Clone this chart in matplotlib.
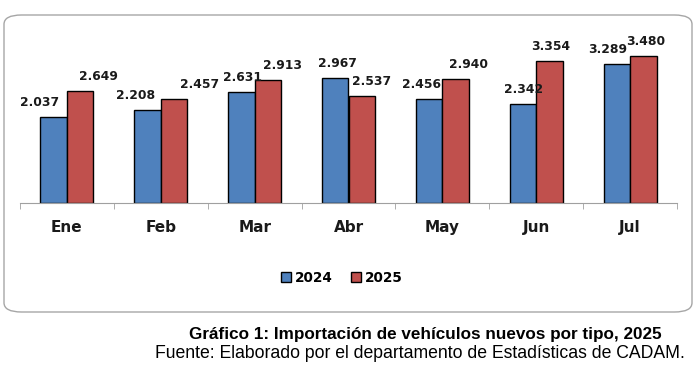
import numpy as np
import matplotlib
matplotlib.use("Agg")
import matplotlib.pyplot as plt
from matplotlib.patches import FancyBboxPatch

months = ["Ene", "Feb", "Mar", "Abr", "May", "Jun", "Jul"]
v2024 = [2.037, 2.208, 2.631, 2.967, 2.456, 2.342, 3.289]
v2025 = [2.649, 2.457, 2.913, 2.537, 2.940, 3.354, 3.480]
lbl2024 = ["2.037", "2.208", "2.631", "2.967", "2.456", "2.342", "3.289"]
lbl2025 = ["2.649", "2.457", "2.913", "2.537", "2.940", "3.354", "3.480"]

# label nudges (pixels), the source has hand-placed data labels
dx2024 = [-14, -12, 1, 2, -8, 1, -9]
dx2025 = [18, 26, 15, 10, 13, 1, 2]

BLUE = "#4F81BD"
RED = "#C0504D"
W, H = 699, 371

fig = plt.figure(figsize=(W / 100, H / 100), dpi=100)

# rounded frame around the chart
frame = FancyBboxPatch((4 / W, 1 - 312 / H), 688 / W, 297 / H,
                       boxstyle="round,pad=0,rounding_size=0.025",
                       transform=fig.transFigure, fill=False,
                       ec="#a6a6a6", lw=1.0)
fig.patches.append(frame)

ax = fig.add_axes([20 / W, 1 - 203 / H, 657 / W, 169 / H])
x = np.arange(len(months))
bw = 0.282
ax.bar(x - bw / 2, v2024, bw, color=BLUE, edgecolor="black", lw=1.0, label="2024")
ax.bar(x + bw / 2, v2025, bw, color=RED, edgecolor="black", lw=1.0, label="2025")

for i in range(len(months)):
    ax.annotate(lbl2024[i], (x[i] - bw / 2, v2024[i]), xytext=(dx2024[i] * 0.72, 8),
                textcoords="offset points", ha="center", va="baseline",
                fontsize=8.9, fontweight="bold", color="#1a1a1a")
    ax.annotate(lbl2025[i], (x[i] + bw / 2, v2025[i]), xytext=(dx2025[i] * 0.72, 8),
                textcoords="offset points", ha="center", va="baseline",
                fontsize=8.9, fontweight="bold", color="#1a1a1a")

ax.set_xlim(-0.5, len(months) - 0.5)
ax.set_ylim(0, 4)
for s in ["top", "right", "left"]:
    ax.spines[s].set_visible(False)
ax.spines["bottom"].set_color("#a0a0a0")
ax.set_yticks([])
ax.set_xticks(x)
ax.set_xticklabels(months, fontsize=11, fontweight="bold", color="#1a1a1a")
ax.tick_params(axis="x", which="major", length=0, pad=12)
ax.set_xticks(np.arange(-0.5, len(months)), minor=True)
ax.tick_params(axis="x", which="minor", length=4, color="#a0a0a0")
ax.patch.set_visible(False)

leg = fig.legend(loc="center", bbox_to_anchor=(342 / W, 1 - 278 / H), ncol=2,
                 frameon=False, handlelength=0.75, handleheight=0.75,
                 handletextpad=0.3, columnspacing=1.3, prop={"weight": "bold", "size": 9.8})

fig.text(425 / W, 1 - 334 / H, "Gráfico 1: Importación de vehículos nuevos por tipo, 2025",
         ha="center", va="center", fontsize=12.3, fontweight="bold",
         family="Liberation Sans", color="black")
fig.text(420 / W, 1 - 354 / H, "Fuente: Elaborado por el departamento de Estadísticas de CADAM.",
         ha="center", va="center", fontsize=12.7, family="Liberation Sans", color="black")

fig.savefig("out.png", dpi=100)
